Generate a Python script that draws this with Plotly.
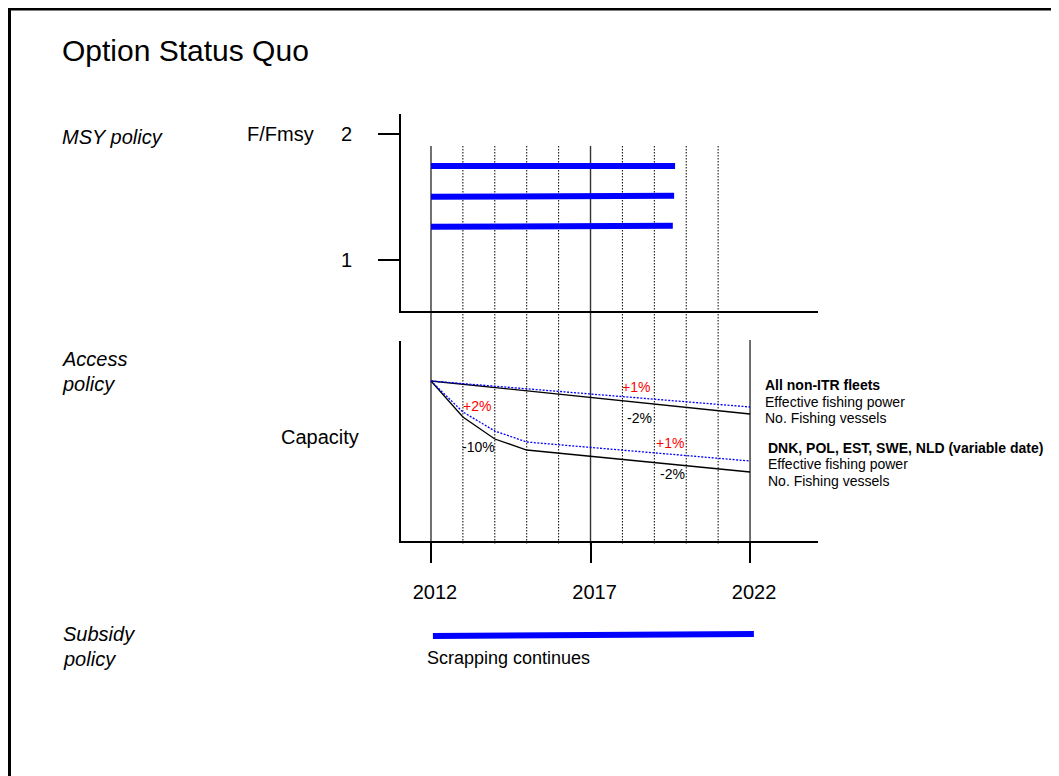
import plotly.graph_objects as go

# page has an 8px body margin; the figure fills the rest of the 1059x776 window
OFF = 8
W, H = 1059 - OFF, 776 - OFF
FONT = "Arial, Liberation Sans, sans-serif"

# ---------------- data ----------------
grid_years = [2012, 2013, 2014, 2015, 2016, 2017, 2018, 2019, 2020, 2021, 2022]
solid_years = [2012, 2017, 2022]
axis_ticks = [2012, 2017, 2022]

# MSY policy: F/Fmsy bars (start, end)
fmsy_start_year = [2012, 2012, 2012]
fmsy_end_year = [2019.65, 2019.62, 2019.58]
fmsy_start_val = [1.746, 1.502, 1.264]
fmsy_end_val = [1.746, 1.510, 1.272]

# Access policy: capacity index
nonitr_years = [2012, 2022]
nonitr_vessels = [100, 83.5]
nonitr_power = [100, 87]
dnk_years = [2012, 2013, 2014, 2015, 2022]
dnk_vessels = [100, 82, 71, 65.5, 54.5]
dnk_power = [100, 84.5, 75, 69.5, 60]

# Subsidy policy
scrap_years = [2012.06, 2022.12]
scrap_level = [0.55, 0.575]

# percentage labels (text, year, index, colour)
pct_text = ["+1%", "+2%", "-2%", "-10%", "+1%", "-2%"]
pct_year = [2018.44, 2013.44, 2018.54, 2013.49, 2019.49, 2019.57]
pct_val = [97, 87.5, 81.5, 67, 69, 53.5]
pct_color = ["#FF0000", "#FF0000", "#000000", "#000000", "#FF0000", "#000000"]


def px(x):
    return (x - OFF) / W


def py(y):
    return 1 - (y - OFF) / H


XDOM = [px(401), px(818)]
XR = [2011.06, 2024.13]

fig = go.Figure()

# top panel bars
for xs, xe, ys, ye in zip(fmsy_start_year, fmsy_end_year, fmsy_start_val, fmsy_end_val):
    fig.add_trace(go.Scatter(x=[xs, xe], y=[ys, ye], xaxis="x", yaxis="y", mode="lines",
                             line=dict(color="#0000FF", width=6), hoverinfo="skip",
                             showlegend=False))

# bottom panel lines
fig.add_trace(go.Scatter(x=nonitr_years, y=nonitr_vessels, xaxis="x2", yaxis="y2", mode="lines",
                         line=dict(color="#000000", width=1.3), showlegend=False))
fig.add_trace(go.Scatter(x=nonitr_years, y=nonitr_power, xaxis="x2", yaxis="y2", mode="lines",
                         line=dict(color="#0000FF", width=1.3, dash="2px,1.5px"), showlegend=False))
fig.add_trace(go.Scatter(x=dnk_years, y=dnk_vessels, xaxis="x2", yaxis="y2", mode="lines",
                         line=dict(color="#000000", width=1.3), showlegend=False))
fig.add_trace(go.Scatter(x=dnk_years, y=dnk_power, xaxis="x2", yaxis="y2", mode="lines",
                         line=dict(color="#0000FF", width=1.3, dash="2px,1.5px"), showlegend=False))

# subsidy bar
fig.add_trace(go.Scatter(x=scrap_years, y=scrap_level, xaxis="x3", yaxis="y3", mode="lines",
                         line=dict(color="#0000FF", width=6), showlegend=False))

shapes = []
# vertical year lines
for yr in grid_years:
    solid = yr in solid_years
    top = py(340) if yr == 2022 else py(146)
    shapes.append(dict(type="line", xref="x2", yref="paper", x0=yr, x1=yr, y0=top, y1=py(545),
                       line=dict(color="#333333" if solid else "#000000",
                                 width=1.4 if solid else 1,
                                 dash="solid" if solid else "1.5px,1.5px"),
                       layer="below"))
# slide border
shapes.append(dict(type="path", xref="paper", yref="paper",
                   path=f"M {px(9.2)},0 L {px(9.2)},{py(8.8)} L 1,{py(8.8)}",
                   line=dict(color="#000000", width=3.6)))

ann = []


def text(s, x, y, size=20, italic=False, bold=False, anchor="left", color="#000000"):
    t = s
    if bold:
        t = f"<b>{t}</b>"
    if italic:
        t = f"<i>{t}</i>"
    ann.append(dict(text=t, x=px(x), y=py(y), xref="paper", yref="paper", showarrow=False,
                    xanchor=anchor, yanchor="middle", font=dict(family=FONT, size=size, color=color)))


text("Option Status Quo", 60, 50, size=30)
text("MSY policy", 60, 137, italic=True)
text("F/Fmsy", 245, 134)
text("Access", 60, 359, italic=True)
text("policy", 60, 384, italic=True)
text("Capacity", 320, 437, anchor="center")
text("Subsidy", 61, 634, italic=True)
text("policy", 61, 659, italic=True)
text("Scrapping continues", 425, 658, size=18)

text("All non-ITR fleets", 763, 385, size=14, bold=True)
text("Effective fishing power", 763, 402, size=14)
text("No. Fishing vessels", 763, 418, size=14)
text("DNK, POL, EST, SWE, NLD (variable date)", 766, 448, size=14, bold=True)
text("Effective fishing power", 766, 464, size=14)
text("No. Fishing vessels", 766, 481, size=14)

for t, xv, yv, c in zip(pct_text, pct_year, pct_val, pct_color):
    ann.append(dict(text=t, x=xv, y=yv, xref="x2", yref="y2", showarrow=False,
                    xanchor="center", yanchor="middle", font=dict(family=FONT, size=14, color=c)))

axis_common = dict(showgrid=False, zeroline=False, linecolor="#000000", linewidth=2,
                   tickcolor="#000000", tickfont=dict(family=FONT, size=20, color="#000000"))

fig.update_layout(
    width=W, height=H, autosize=False,
    margin=dict(l=0, r=0, t=0, b=0),
    paper_bgcolor="white", plot_bgcolor="white",
    showlegend=False,
    xaxis=dict(domain=XDOM, range=XR, anchor="y", showline=True, showticklabels=False,
               ticks="", **axis_common),
    yaxis=dict(domain=[py(311), py(114)], range=[0.5952, 2.1587], anchor="x", showline=True,
               tickvals=[1, 2], ticktext=["1", "2"], ticks="outside", ticklen=21, tickwidth=2,
               ticklabelstandoff=22, **axis_common),
    xaxis2=dict(domain=XDOM, range=XR, anchor="y2", showline=True, tickvals=axis_ticks,
                ticktext=[str(v) for v in axis_ticks], ticks="outside", ticklen=20, tickwidth=2,
                ticklabelstandoff=12, ticklabelshift=4, **axis_common),
    yaxis2=dict(domain=[py(541), py(341)], range=[20, 120], anchor="x2", showline=True,
                showticklabels=False, ticks="", **axis_common),
    xaxis3=dict(domain=XDOM, range=XR, anchor="y3", visible=False),
    yaxis3=dict(domain=[py(680), py(600)], range=[0, 1], anchor="x3", visible=False),
    shapes=shapes,
    annotations=ann,
)

fig.write_html("out.html")
